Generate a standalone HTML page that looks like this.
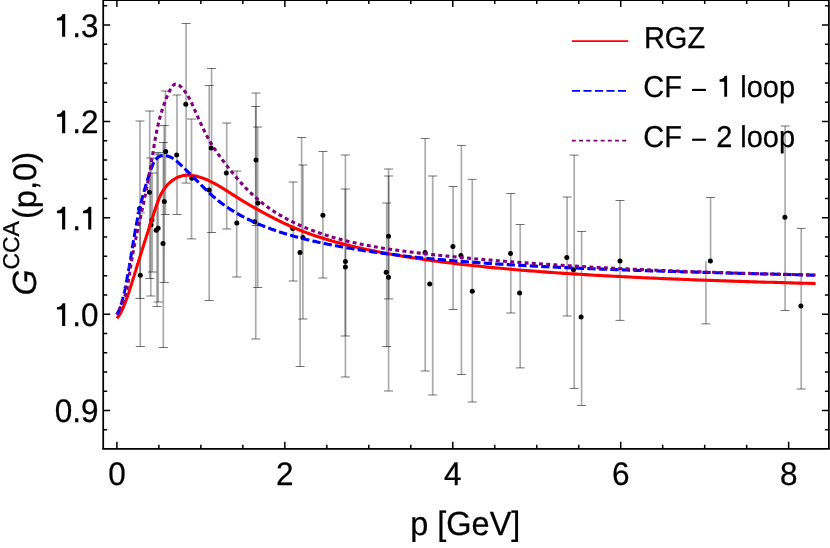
<!DOCTYPE html>
<html><head><meta charset="utf-8"><title>G CCA plot</title>
<style>
html,body{margin:0;padding:0;background:#fff;}
body{width:830px;height:548px;overflow:hidden;}
svg{display:block;will-change:transform;}
text{font-family:"Liberation Sans",sans-serif;fill:#000;text-rendering:geometricPrecision;stroke:#000;stroke-width:0.25px;}
</style></head><body>
<svg width="830" height="548" viewBox="0 0 830 548">
<rect width="830" height="548" fill="#fff"/>
<g stroke="#000" stroke-width="1.7" fill="none" stroke-opacity="0.33">
<line x1="140.0" y1="121.0" x2="140.0" y2="298.5"/>
<line x1="140.3" y1="213.0" x2="140.3" y2="346.5"/>
<line x1="149.7" y1="111.0" x2="149.7" y2="278.5"/>
<line x1="150.8" y1="158.0" x2="150.8" y2="296.0"/>
<line x1="152.3" y1="173.0" x2="152.3" y2="272.0"/>
<line x1="158.2" y1="152.5" x2="158.2" y2="302.0"/>
<line x1="157.0" y1="154.0" x2="157.0" y2="306.5"/>
<line x1="165.4" y1="91.0" x2="165.4" y2="214.5"/>
<line x1="164.2" y1="125.5" x2="164.2" y2="282.5"/>
<line x1="163.3" y1="142.5" x2="163.3" y2="347.5"/>
<line x1="177.0" y1="95.0" x2="177.0" y2="214.5"/>
<line x1="186.1" y1="23.5" x2="186.1" y2="183.1"/>
<line x1="191.5" y1="119.0" x2="191.5" y2="238.9"/>
<line x1="209.2" y1="85.5" x2="209.2" y2="300.5"/>
<line x1="211.6" y1="68.5" x2="211.6" y2="232.5"/>
<line x1="226.7" y1="123.0" x2="226.7" y2="229.0"/>
<line x1="236.7" y1="171.0" x2="236.7" y2="277.0"/>
<line x1="256.0" y1="93.0" x2="256.0" y2="225.6"/>
<line x1="255.7" y1="106.5" x2="255.7" y2="339.0"/>
<line x1="257.7" y1="127.0" x2="257.7" y2="287.5"/>
<line x1="293.2" y1="182.0" x2="293.2" y2="281.0"/>
<line x1="302.9" y1="165.0" x2="302.9" y2="319.0"/>
<line x1="322.9" y1="151.5" x2="322.9" y2="278.0"/>
<line x1="345.4" y1="189.0" x2="345.4" y2="336.0"/>
<line x1="345.4" y1="155.0" x2="345.4" y2="377.0"/>
<line x1="388.6" y1="176.0" x2="388.6" y2="298.9"/>
<line x1="388.6" y1="169.0" x2="388.6" y2="391.0"/>
<line x1="386.7" y1="203.0" x2="386.7" y2="346.5"/>
<line x1="425.2" y1="138.5" x2="425.2" y2="371.0"/>
<line x1="432.7" y1="176.0" x2="432.7" y2="395.0"/>
<line x1="453.1" y1="186.5" x2="453.1" y2="309.5"/>
<line x1="461.4" y1="145.4" x2="461.4" y2="374.5"/>
<line x1="472.3" y1="179.3" x2="472.3" y2="402.0"/>
<line x1="510.8" y1="193.5" x2="510.8" y2="313.0"/>
<line x1="520.2" y1="224.5" x2="520.2" y2="367.9"/>
<line x1="567.1" y1="197.0" x2="567.1" y2="316.0"/>
<line x1="574.2" y1="155.1" x2="574.2" y2="388.4"/>
<line x1="581.6" y1="231.5" x2="581.6" y2="405.5"/>
<line x1="620.0" y1="200.5" x2="620.0" y2="320.4"/>
<line x1="785.1" y1="126.0" x2="785.1" y2="310.5"/>
<line x1="801.2" y1="228.4" x2="801.2" y2="389.0"/>
<line x1="710.6" y1="197.5" x2="710.6" y2="261.2"/>
<line x1="705.9" y1="261.2" x2="705.9" y2="323.9"/>
<line x1="301.6" y1="137.5" x2="301.6" y2="252.4"/>
<line x1="300.1" y1="252.4" x2="300.1" y2="366.5"/>
</g>
<g stroke="#000" stroke-width="1.0" fill="none" stroke-opacity="0.55">
<line x1="135.5" y1="121.0" x2="144.5" y2="121.0"/>
<line x1="135.5" y1="298.5" x2="144.5" y2="298.5"/>
<line x1="135.8" y1="213.0" x2="144.8" y2="213.0"/>
<line x1="135.8" y1="346.5" x2="144.8" y2="346.5"/>
<line x1="145.2" y1="111.0" x2="154.2" y2="111.0"/>
<line x1="145.2" y1="278.5" x2="154.2" y2="278.5"/>
<line x1="146.3" y1="158.0" x2="155.3" y2="158.0"/>
<line x1="146.3" y1="296.0" x2="155.3" y2="296.0"/>
<line x1="147.8" y1="173.0" x2="156.8" y2="173.0"/>
<line x1="147.8" y1="272.0" x2="156.8" y2="272.0"/>
<line x1="153.7" y1="152.5" x2="162.7" y2="152.5"/>
<line x1="153.7" y1="302.0" x2="162.7" y2="302.0"/>
<line x1="152.5" y1="154.0" x2="161.5" y2="154.0"/>
<line x1="152.5" y1="306.5" x2="161.5" y2="306.5"/>
<line x1="160.9" y1="91.0" x2="169.9" y2="91.0"/>
<line x1="160.9" y1="214.5" x2="169.9" y2="214.5"/>
<line x1="159.7" y1="125.5" x2="168.7" y2="125.5"/>
<line x1="159.7" y1="282.5" x2="168.7" y2="282.5"/>
<line x1="158.8" y1="142.5" x2="167.8" y2="142.5"/>
<line x1="158.8" y1="347.5" x2="167.8" y2="347.5"/>
<line x1="172.5" y1="95.0" x2="181.5" y2="95.0"/>
<line x1="172.5" y1="214.5" x2="181.5" y2="214.5"/>
<line x1="181.6" y1="23.5" x2="190.6" y2="23.5"/>
<line x1="181.6" y1="183.1" x2="190.6" y2="183.1"/>
<line x1="187.0" y1="119.0" x2="196.0" y2="119.0"/>
<line x1="187.0" y1="238.9" x2="196.0" y2="238.9"/>
<line x1="204.7" y1="85.5" x2="213.7" y2="85.5"/>
<line x1="204.7" y1="300.5" x2="213.7" y2="300.5"/>
<line x1="207.1" y1="68.5" x2="216.1" y2="68.5"/>
<line x1="207.1" y1="232.5" x2="216.1" y2="232.5"/>
<line x1="222.2" y1="123.0" x2="231.2" y2="123.0"/>
<line x1="222.2" y1="229.0" x2="231.2" y2="229.0"/>
<line x1="232.2" y1="171.0" x2="241.2" y2="171.0"/>
<line x1="232.2" y1="277.0" x2="241.2" y2="277.0"/>
<line x1="251.5" y1="93.0" x2="260.5" y2="93.0"/>
<line x1="251.5" y1="225.6" x2="260.5" y2="225.6"/>
<line x1="251.2" y1="106.5" x2="260.2" y2="106.5"/>
<line x1="251.2" y1="339.0" x2="260.2" y2="339.0"/>
<line x1="253.2" y1="127.0" x2="262.2" y2="127.0"/>
<line x1="253.2" y1="287.5" x2="262.2" y2="287.5"/>
<line x1="288.7" y1="182.0" x2="297.7" y2="182.0"/>
<line x1="288.7" y1="281.0" x2="297.7" y2="281.0"/>
<line x1="298.4" y1="165.0" x2="307.4" y2="165.0"/>
<line x1="298.4" y1="319.0" x2="307.4" y2="319.0"/>
<line x1="318.4" y1="151.5" x2="327.4" y2="151.5"/>
<line x1="318.4" y1="278.0" x2="327.4" y2="278.0"/>
<line x1="340.9" y1="189.0" x2="349.9" y2="189.0"/>
<line x1="340.9" y1="336.0" x2="349.9" y2="336.0"/>
<line x1="340.9" y1="155.0" x2="349.9" y2="155.0"/>
<line x1="340.9" y1="377.0" x2="349.9" y2="377.0"/>
<line x1="384.1" y1="176.0" x2="393.1" y2="176.0"/>
<line x1="384.1" y1="298.9" x2="393.1" y2="298.9"/>
<line x1="384.1" y1="169.0" x2="393.1" y2="169.0"/>
<line x1="384.1" y1="391.0" x2="393.1" y2="391.0"/>
<line x1="382.2" y1="203.0" x2="391.2" y2="203.0"/>
<line x1="382.2" y1="346.5" x2="391.2" y2="346.5"/>
<line x1="420.7" y1="138.5" x2="429.7" y2="138.5"/>
<line x1="420.7" y1="371.0" x2="429.7" y2="371.0"/>
<line x1="428.2" y1="176.0" x2="437.2" y2="176.0"/>
<line x1="428.2" y1="395.0" x2="437.2" y2="395.0"/>
<line x1="448.6" y1="186.5" x2="457.6" y2="186.5"/>
<line x1="448.6" y1="309.5" x2="457.6" y2="309.5"/>
<line x1="456.9" y1="145.4" x2="465.9" y2="145.4"/>
<line x1="456.9" y1="374.5" x2="465.9" y2="374.5"/>
<line x1="467.8" y1="179.3" x2="476.8" y2="179.3"/>
<line x1="467.8" y1="402.0" x2="476.8" y2="402.0"/>
<line x1="506.3" y1="193.5" x2="515.3" y2="193.5"/>
<line x1="506.3" y1="313.0" x2="515.3" y2="313.0"/>
<line x1="515.7" y1="224.5" x2="524.7" y2="224.5"/>
<line x1="515.7" y1="367.9" x2="524.7" y2="367.9"/>
<line x1="562.6" y1="197.0" x2="571.6" y2="197.0"/>
<line x1="562.6" y1="316.0" x2="571.6" y2="316.0"/>
<line x1="569.7" y1="155.1" x2="578.7" y2="155.1"/>
<line x1="569.7" y1="388.4" x2="578.7" y2="388.4"/>
<line x1="577.1" y1="231.5" x2="586.1" y2="231.5"/>
<line x1="577.1" y1="405.5" x2="586.1" y2="405.5"/>
<line x1="615.5" y1="200.5" x2="624.5" y2="200.5"/>
<line x1="615.5" y1="320.4" x2="624.5" y2="320.4"/>
<line x1="780.6" y1="126.0" x2="789.6" y2="126.0"/>
<line x1="780.6" y1="310.5" x2="789.6" y2="310.5"/>
<line x1="796.7" y1="228.4" x2="805.7" y2="228.4"/>
<line x1="796.7" y1="389.0" x2="805.7" y2="389.0"/>
<line x1="706.1" y1="197.5" x2="715.1" y2="197.5"/>
<line x1="701.4" y1="323.9" x2="710.4" y2="323.9"/>
<line x1="297.1" y1="137.5" x2="306.1" y2="137.5"/>
<line x1="295.6" y1="366.5" x2="304.6" y2="366.5"/>
</g>
<g fill="#000">
<circle cx="139.6" cy="208.5" r="2.5"/>
<circle cx="140.3" cy="275.3" r="2.5"/>
<circle cx="149.4" cy="192.2" r="2.5"/>
<circle cx="151.0" cy="224.7" r="2.5"/>
<circle cx="151.9" cy="220.1" r="2.5"/>
<circle cx="158.1" cy="228.3" r="2.5"/>
<circle cx="156.2" cy="230.2" r="2.5"/>
<circle cx="165.7" cy="151.5" r="2.5"/>
<circle cx="164.3" cy="201.6" r="2.5"/>
<circle cx="163.0" cy="243.5" r="2.5"/>
<circle cx="176.7" cy="155.1" r="2.5"/>
<circle cx="185.8" cy="104.2" r="2.5"/>
<circle cx="191.8" cy="178.2" r="2.5"/>
<circle cx="209.1" cy="190.0" r="2.5"/>
<circle cx="211.2" cy="148.1" r="2.5"/>
<circle cx="226.3" cy="173.1" r="2.5"/>
<circle cx="236.8" cy="223.0" r="2.5"/>
<circle cx="256.0" cy="159.9" r="2.5"/>
<circle cx="254.7" cy="221.7" r="2.5"/>
<circle cx="257.9" cy="203.1" r="2.5"/>
<circle cx="292.7" cy="228.5" r="2.5"/>
<circle cx="302.9" cy="237.5" r="2.5"/>
<circle cx="300.0" cy="252.4" r="2.5"/>
<circle cx="322.9" cy="215.3" r="2.5"/>
<circle cx="345.4" cy="261.6" r="2.5"/>
<circle cx="345.4" cy="266.9" r="2.5"/>
<circle cx="388.5" cy="236.3" r="2.5"/>
<circle cx="388.5" cy="277.2" r="2.5"/>
<circle cx="386.2" cy="272.3" r="2.5"/>
<circle cx="425.1" cy="252.4" r="2.5"/>
<circle cx="429.7" cy="284.1" r="2.5"/>
<circle cx="452.9" cy="246.5" r="2.5"/>
<circle cx="460.9" cy="255.4" r="2.5"/>
<circle cx="472.3" cy="291.2" r="2.5"/>
<circle cx="510.5" cy="253.4" r="2.5"/>
<circle cx="519.6" cy="293.0" r="2.5"/>
<circle cx="566.8" cy="257.5" r="2.5"/>
<circle cx="573.5" cy="269.8" r="2.5"/>
<circle cx="581.1" cy="317.1" r="2.5"/>
<circle cx="620.0" cy="261.1" r="2.5"/>
<circle cx="710.4" cy="261.0" r="2.5"/>
<circle cx="784.9" cy="217.2" r="2.5"/>
<circle cx="800.9" cy="306.0" r="2.5"/>
</g>
<g fill="none" stroke-width="3.1" stroke-linejoin="round">
<path d="M116.90,318.40 L116.98,318.30 L117.07,318.20 L117.15,318.09 L117.23,317.99 L117.32,317.89 L117.40,317.78 L117.49,317.67 L117.57,317.57 L117.65,317.46 L117.73,317.35 L117.82,317.25 L117.90,317.14 L117.98,317.03 L118.06,316.92 L118.14,316.80 L118.22,316.69 L118.30,316.58 L118.38,316.47 L118.46,316.35 L118.54,316.24 L118.62,316.12 L118.70,316.00 L118.78,315.89 L118.86,315.77 L118.94,315.65 L119.02,315.53 L119.10,315.41 L119.18,315.29 L119.26,315.17 L119.34,315.04 L119.41,314.92 L119.49,314.79 L119.57,314.67 L119.65,314.54 L119.72,314.41 L119.80,314.29 L119.88,314.16 L119.96,314.03 L120.03,313.90 L120.11,313.77 L120.19,313.63 L120.26,313.50 L120.34,313.37 L120.41,313.23 L120.49,313.10 L120.57,312.96 L120.64,312.82 L120.72,312.68 L120.79,312.55 L120.87,312.41 L120.94,312.26 L121.02,312.12 L121.09,311.98 L121.17,311.84 L121.24,311.69 L121.32,311.55 L121.39,311.40 L121.47,311.25 L121.54,311.10 L121.62,310.95 L121.69,310.80 L121.77,310.65 L121.84,310.50 L121.92,310.35 L121.99,310.19 L122.07,310.04 L122.14,309.88 L122.21,309.72 L122.29,309.56 L122.36,309.41 L122.44,309.25 L122.51,309.08 L122.59,308.92 L122.66,308.76 L122.73,308.59 L122.81,308.43 L122.88,308.26 L122.96,308.10 L123.03,307.93 L123.11,307.76 L123.18,307.59 L123.25,307.42 L123.33,307.24 L123.40,307.07 L123.48,306.89 L123.55,306.72 L123.63,306.54 L123.70,306.36 L123.77,306.18 L123.85,306.00 L123.92,305.82 L124.00,305.64 L124.07,305.46 L124.15,305.27 L124.22,305.09 L124.30,304.90 L124.37,304.71 L124.45,304.52 L124.52,304.33 L124.60,304.14 L124.67,303.95 L124.75,303.76 L124.82,303.56 L124.90,303.37 L124.98,303.17 L125.05,302.97 L125.13,302.77 L125.20,302.57 L125.28,302.37 L125.36,302.17 L125.43,301.96 L125.51,301.76 L125.59,301.55 L125.66,301.34 L125.74,301.13 L125.82,300.92 L125.89,300.71 L125.97,300.50 L126.05,300.29 L126.13,300.07 L126.21,299.85 L126.28,299.64 L126.36,299.42 L126.44,299.20 L126.52,298.98 L126.60,298.75 L126.68,298.53 L126.76,298.31 L126.84,298.08 L126.92,297.85 L127.00,297.62 L127.08,297.39 L127.16,297.16 L127.24,296.93 L127.32,296.69 L127.40,296.46 L127.48,296.22 L127.56,295.98 L127.64,295.74 L127.72,295.50 L127.81,295.26 L127.89,295.02 L127.97,294.77 L128.05,294.53 L128.14,294.28 L128.22,294.03 L128.30,293.78 L128.39,293.53 L128.47,293.28 L128.56,293.02 L128.64,292.77 L128.73,292.51 L128.81,292.25 L128.90,291.99 L128.98,291.73 L129.07,291.47 L129.16,291.20 L129.24,290.94 L129.33,290.67 L129.42,290.40 L129.51,290.13 L129.59,289.86 L129.68,289.59 L129.77,289.32 L129.86,289.04 L129.95,288.76 L130.04,288.49 L130.13,288.21 L130.22,287.93 L130.31,287.64 L130.40,287.36 L130.49,287.07 L130.58,286.79 L130.68,286.50 L130.77,286.21 L130.86,285.92 L130.95,285.62 L131.05,285.33 L131.14,285.03 L131.24,284.73 L131.33,284.44 L131.43,284.13 L131.52,283.83 L131.62,283.53 L131.71,283.22 L131.81,282.92 L131.91,282.61 L132.00,282.30 L132.10,281.99 L132.20,281.67 L132.30,281.36 L132.40,281.04 L132.50,280.73 L132.60,280.41 L132.70,280.09 L132.80,279.76 L132.90,279.44 L133.00,279.11 L133.10,278.79 L133.21,278.46 L133.31,278.13 L133.41,277.79 L133.52,277.46 L133.62,277.13 L133.73,276.79 L133.83,276.45 L133.94,276.11 L134.04,275.77 L134.15,275.42 L134.26,275.08 L134.37,274.73 L134.47,274.38 L134.58,274.03 L134.69,273.68 L134.80,273.33 L134.91,272.97 L135.02,272.62 L135.13,272.26 L135.25,271.90 L135.36,271.53 L135.47,271.17 L135.59,270.81 L135.70,270.44 L135.81,270.07 L135.93,269.70 L136.04,269.33 L136.16,268.95 L136.28,268.58 L136.39,268.20 L136.51,267.82 L136.63,267.44 L136.75,267.06 L136.87,266.67 L136.99,266.28 L137.11,265.90 L137.23,265.51 L137.35,265.11 L137.47,264.72 L137.60,264.33 L137.72,263.93 L137.84,263.53 L137.97,263.13 L138.09,262.73 L138.22,262.32 L138.35,261.92 L138.47,261.51 L138.60,261.10 L138.73,260.69 L138.86,260.27 L138.99,259.86 L139.12,259.44 L139.25,259.02 L139.38,258.60 L139.51,258.18 L139.65,257.75 L139.78,257.33 L139.91,256.90 L140.05,256.47 L140.18,256.04 L140.32,255.60 L140.46,255.16 L140.59,254.73 L140.73,254.29 L140.87,253.84 L141.01,253.40 L141.15,252.95 L141.29,252.50 L141.43,252.05 L141.58,251.60 L141.72,251.14 L141.87,250.69 L142.01,250.23 L142.16,249.77 L142.30,249.30 L142.45,248.83 L142.60,248.36 L142.75,247.89 L142.90,247.42 L143.05,246.94 L143.20,246.46 L143.35,245.98 L143.51,245.50 L143.66,245.01 L143.82,244.52 L143.97,244.03 L144.13,243.54 L144.29,243.04 L144.45,242.54 L144.61,242.04 L144.77,241.53 L144.93,241.02 L145.09,240.51 L145.26,240.00 L145.42,239.48 L145.59,238.96 L145.75,238.44 L145.92,237.91 L146.09,237.38 L146.26,236.85 L146.43,236.32 L146.60,235.78 L146.78,235.24 L146.95,234.70 L147.13,234.15 L147.30,233.60 L147.48,233.05 L147.66,232.49 L147.84,231.93 L148.02,231.37 L148.20,230.80 L148.39,230.23 L148.57,229.66 L148.76,229.08 L148.94,228.50 L149.13,227.92 L149.32,227.34 L149.51,226.75 L149.70,226.15 L149.90,225.56 L150.09,224.96 L150.29,224.35 L150.48,223.74 L150.68,223.13 L150.88,222.52 L151.08,221.90 L151.28,221.28 L151.49,220.65 L151.69,220.02 L151.90,219.39 L152.10,218.75 L152.31,218.11 L152.52,217.47 L152.73,216.82 L152.95,216.16 L153.16,215.51 L153.38,214.85 L153.59,214.18 L153.81,213.51 L154.03,212.84 L154.25,212.16 L154.47,211.48 L154.70,210.80 L154.92,210.11 L155.15,209.42 L155.38,208.72 L155.61,208.02 L155.84,207.31 L156.08,206.60 L156.32,205.89 L156.56,205.18 L156.80,204.46 L157.05,203.75 L157.31,203.03 L157.57,202.31 L157.84,201.59 L158.11,200.87 L158.39,200.15 L158.67,199.44 L158.97,198.72 L159.27,198.00 L159.58,197.29 L159.90,196.58 L160.23,195.87 L160.56,195.17 L160.91,194.46 L161.27,193.77 L161.64,193.07 L162.02,192.38 L162.41,191.70 L162.82,191.02 L163.24,190.35 L163.67,189.68 L164.12,189.02 L164.58,188.37 L165.05,187.73 L165.54,187.09 L166.04,186.46 L166.56,185.84 L167.10,185.23 L167.66,184.63 L168.23,184.04 L168.82,183.46 L169.42,182.89 L170.05,182.33 L170.69,181.78 L171.36,181.24 L172.04,180.72 L172.75,180.21 L173.47,179.71 L174.21,179.23 L174.97,178.76 L175.75,178.32 L176.55,177.90 L177.36,177.51 L178.19,177.14 L179.03,176.80 L179.89,176.49 L180.76,176.21 L181.65,175.97 L182.54,175.76 L183.45,175.59 L184.37,175.44 L185.30,175.33 L186.24,175.25 L187.19,175.21 L188.14,175.20 L189.10,175.22 L190.07,175.27 L191.05,175.34 L192.03,175.45 L193.01,175.58 L194.00,175.74 L195.00,175.93 L195.99,176.13 L196.99,176.37 L197.99,176.62 L198.99,176.90 L199.98,177.19 L200.98,177.51 L201.98,177.85 L202.97,178.20 L203.96,178.57 L204.95,178.95 L205.94,179.35 L206.92,179.77 L207.89,180.20 L208.87,180.64 L209.84,181.10 L210.81,181.57 L211.78,182.05 L212.75,182.55 L213.71,183.05 L214.68,183.57 L215.64,184.10 L216.61,184.64 L217.57,185.19 L218.54,185.75 L219.51,186.32 L220.48,186.89 L221.44,187.48 L222.42,188.07 L223.39,188.67 L224.37,189.28 L225.34,189.89 L226.33,190.51 L227.31,191.14 L228.30,191.77 L229.29,192.40 L230.29,193.04 L231.29,193.69 L232.30,194.33 L233.32,194.98 L234.33,195.64 L235.36,196.29 L236.39,196.95 L237.43,197.61 L238.47,198.27 L239.53,198.93 L240.59,199.59 L241.65,200.25 L242.73,200.91 L243.82,201.56 L244.91,202.22 L246.01,202.88 L247.12,203.53 L248.24,204.19 L249.37,204.85 L250.51,205.50 L251.65,206.16 L252.80,206.82 L253.97,207.48 L255.14,208.13 L256.32,208.79 L257.51,209.45 L258.70,210.12 L259.91,210.78 L261.13,211.44 L262.35,212.11 L263.58,212.78 L264.82,213.45 L266.08,214.12 L267.34,214.79 L268.60,215.47 L269.88,216.14 L271.17,216.81 L272.47,217.49 L273.77,218.16 L275.08,218.83 L276.41,219.50 L277.74,220.17 L279.08,220.84 L280.43,221.51 L281.80,222.17 L283.16,222.83 L284.54,223.48 L285.93,224.13 L287.33,224.78 L288.74,225.42 L290.16,226.06 L291.58,226.69 L293.02,227.32 L294.46,227.94 L295.92,228.55 L297.38,229.16 L298.86,229.76 L300.34,230.35 L301.83,230.94 L303.34,231.52 L304.85,232.10 L306.37,232.67 L307.90,233.23 L309.45,233.79 L311.00,234.34 L312.56,234.88 L314.13,235.42 L315.71,235.95 L317.31,236.48 L318.91,237.00 L320.52,237.52 L322.14,238.03 L323.77,238.54 L325.41,239.04 L327.06,239.53 L328.73,240.02 L330.40,240.51 L332.08,240.99 L333.77,241.46 L335.48,241.93 L337.19,242.40 L338.91,242.86 L340.64,243.32 L342.39,243.77 L344.14,244.22 L345.91,244.66 L347.68,245.10 L349.47,245.54 L351.26,245.97 L353.07,246.40 L354.89,246.83 L356.71,247.25 L358.55,247.66 L360.40,248.08 L362.26,248.49 L364.13,248.90 L366.01,249.30 L367.90,249.70 L369.80,250.10 L371.71,250.49 L373.64,250.88 L375.57,251.27 L377.52,251.66 L379.47,252.04 L381.44,252.42 L383.42,252.79 L385.41,253.16 L387.41,253.53 L389.42,253.90 L391.45,254.27 L393.48,254.63 L395.53,254.98 L397.58,255.34 L399.65,255.69 L401.73,256.04 L403.83,256.39 L405.93,256.73 L408.05,257.07 L410.18,257.41 L412.31,257.75 L414.47,258.08 L416.63,258.41 L418.81,258.73 L420.99,259.06 L423.19,259.38 L425.40,259.70 L427.63,260.02 L429.86,260.33 L432.11,260.64 L434.37,260.95 L436.65,261.25 L438.93,261.56 L441.23,261.86 L443.54,262.15 L445.87,262.45 L448.20,262.74 L450.55,263.03 L452.92,263.32 L455.29,263.60 L457.68,263.89 L460.08,264.17 L462.49,264.45 L464.92,264.72 L467.36,264.99 L469.81,265.26 L472.28,265.53 L474.76,265.80 L477.25,266.06 L479.76,266.32 L482.28,266.58 L484.81,266.84 L487.36,267.09 L489.92,267.34 L492.50,267.59 L495.08,267.84 L497.69,268.08 L500.30,268.33 L502.93,268.57 L505.58,268.81 L508.23,269.04 L510.91,269.28 L513.59,269.51 L516.29,269.74 L519.00,269.97 L521.73,270.19 L524.48,270.42 L527.23,270.64 L530.00,270.86 L532.79,271.07 L535.59,271.29 L538.41,271.50 L541.23,271.71 L544.08,271.92 L546.94,272.13 L549.81,272.34 L552.70,272.54 L555.60,272.74 L558.52,272.94 L561.46,273.14 L564.40,273.34 L567.37,273.53 L570.35,273.72 L573.34,273.91 L576.35,274.10 L579.38,274.29 L582.42,274.47 L585.47,274.66 L588.54,274.84 L591.63,275.02 L594.73,275.20 L597.85,275.38 L600.98,275.55 L604.13,275.72 L607.30,275.90 L610.48,276.07 L613.67,276.24 L616.89,276.40 L620.11,276.57 L623.36,276.73 L626.62,276.89 L629.90,277.05 L633.19,277.21 L636.50,277.37 L639.83,277.53 L643.17,277.68 L646.53,277.84 L649.90,277.99 L653.29,278.14 L656.70,278.29 L660.13,278.44 L663.57,278.58 L667.03,278.73 L670.50,278.87 L674.00,279.01 L677.50,279.16 L681.03,279.30 L684.57,279.43 L688.13,279.57 L691.71,279.71 L695.31,279.84 L698.92,279.98 L702.55,280.11 L706.19,280.24 L709.86,280.37 L713.54,280.50 L717.24,280.63 L720.95,280.75 L724.69,280.88 L728.44,281.00 L732.21,281.13 L736.00,281.25 L739.80,281.37 L743.62,281.49 L747.47,281.61 L751.32,281.73 L755.20,281.85 L759.10,281.96 L763.01,282.08 L766.94,282.19 L770.89,282.31 L774.86,282.42 L778.84,282.53 L782.85,282.64 L786.87,282.75 L790.91,282.86 L794.97,282.97 L799.05,283.08 L803.15,283.19 L807.27,283.29 L811.40,283.40 L815.56,283.50" stroke="#ff0000" stroke-linecap="butt"/>
<path d="M116.90,314.60 L116.97,314.49 L117.03,314.37 L117.10,314.25 L117.16,314.13 L117.22,314.01 L117.29,313.89 L117.35,313.77 L117.41,313.65 L117.48,313.53 L117.54,313.41 L117.60,313.29 L117.66,313.16 L117.73,313.04 L117.79,312.92 L117.85,312.79 L117.91,312.66 L117.97,312.54 L118.04,312.41 L118.10,312.28 L118.16,312.16 L118.22,312.03 L118.28,311.90 L118.34,311.77 L118.40,311.63 L118.46,311.50 L118.52,311.37 L118.58,311.24 L118.64,311.10 L118.70,310.97 L118.76,310.83 L118.82,310.70 L118.87,310.56 L118.93,310.42 L118.99,310.28 L119.05,310.14 L119.11,310.00 L119.17,309.86 L119.22,309.72 L119.28,309.58 L119.34,309.44 L119.40,309.29 L119.45,309.15 L119.51,309.00 L119.57,308.86 L119.63,308.71 L119.68,308.56 L119.74,308.41 L119.80,308.26 L119.85,308.11 L119.91,307.96 L119.97,307.81 L120.02,307.65 L120.08,307.50 L120.13,307.35 L120.19,307.19 L120.25,307.03 L120.30,306.88 L120.36,306.72 L120.41,306.56 L120.47,306.40 L120.52,306.24 L120.58,306.07 L120.63,305.91 L120.69,305.75 L120.74,305.58 L120.80,305.42 L120.85,305.25 L120.91,305.08 L120.96,304.91 L121.02,304.74 L121.07,304.57 L121.12,304.40 L121.18,304.23 L121.23,304.05 L121.29,303.88 L121.34,303.70 L121.39,303.53 L121.45,303.35 L121.50,303.17 L121.56,302.99 L121.61,302.81 L121.66,302.63 L121.72,302.44 L121.77,302.26 L121.82,302.07 L121.88,301.89 L121.93,301.70 L121.98,301.51 L122.04,301.32 L122.09,301.13 L122.14,300.94 L122.20,300.75 L122.25,300.55 L122.30,300.36 L122.36,300.16 L122.41,299.96 L122.46,299.76 L122.52,299.56 L122.57,299.36 L122.62,299.16 L122.68,298.96 L122.73,298.75 L122.78,298.55 L122.83,298.34 L122.89,298.13 L122.94,297.92 L122.99,297.71 L123.05,297.50 L123.10,297.29 L123.15,297.07 L123.21,296.86 L123.26,296.64 L123.31,296.43 L123.36,296.21 L123.42,295.99 L123.47,295.76 L123.52,295.54 L123.58,295.32 L123.63,295.09 L123.68,294.87 L123.74,294.64 L123.79,294.41 L123.84,294.18 L123.90,293.95 L123.95,293.71 L124.00,293.48 L124.06,293.24 L124.11,293.01 L124.16,292.77 L124.22,292.53 L124.27,292.29 L124.33,292.04 L124.38,291.80 L124.43,291.55 L124.49,291.31 L124.54,291.06 L124.60,290.81 L124.65,290.56 L124.70,290.31 L124.76,290.05 L124.81,289.80 L124.87,289.54 L124.92,289.28 L124.98,289.03 L125.03,288.76 L125.08,288.50 L125.14,288.24 L125.19,287.97 L125.25,287.71 L125.30,287.44 L125.36,287.17 L125.42,286.90 L125.47,286.63 L125.53,286.35 L125.58,286.08 L125.64,285.80 L125.69,285.52 L125.75,285.24 L125.80,284.96 L125.86,284.68 L125.92,284.39 L125.97,284.11 L126.03,283.82 L126.09,283.53 L126.14,283.24 L126.20,282.95 L126.26,282.65 L126.31,282.36 L126.37,282.06 L126.43,281.76 L126.49,281.46 L126.54,281.16 L126.60,280.86 L126.66,280.55 L126.72,280.24 L126.78,279.94 L126.83,279.63 L126.89,279.31 L126.95,279.00 L127.01,278.69 L127.07,278.37 L127.13,278.05 L127.19,277.73 L127.25,277.41 L127.31,277.09 L127.37,276.76 L127.43,276.43 L127.49,276.11 L127.55,275.78 L127.61,275.44 L127.67,275.11 L127.73,274.78 L127.79,274.44 L127.85,274.10 L127.91,273.76 L127.97,273.42 L128.04,273.07 L128.10,272.73 L128.16,272.38 L128.22,272.03 L128.28,271.68 L128.35,271.33 L128.41,270.97 L128.47,270.62 L128.54,270.26 L128.60,269.90 L128.66,269.54 L128.73,269.17 L128.79,268.81 L128.86,268.44 L128.92,268.07 L128.99,267.70 L129.05,267.33 L129.12,266.95 L129.18,266.57 L129.25,266.20 L129.31,265.82 L129.38,265.43 L129.45,265.05 L129.51,264.66 L129.58,264.28 L129.65,263.89 L129.71,263.49 L129.78,263.10 L129.85,262.70 L129.92,262.31 L129.99,261.91 L130.06,261.51 L130.12,261.10 L130.19,260.70 L130.26,260.29 L130.33,259.88 L130.40,259.47 L130.47,259.06 L130.54,258.64 L130.62,258.22 L130.69,257.80 L130.76,257.38 L130.83,256.96 L130.90,256.54 L130.97,256.11 L131.05,255.68 L131.12,255.25 L131.19,254.81 L131.27,254.38 L131.34,253.94 L131.41,253.50 L131.49,253.06 L131.56,252.62 L131.64,252.17 L131.71,251.72 L131.79,251.27 L131.86,250.82 L131.94,250.37 L132.02,249.91 L132.09,249.45 L132.17,248.99 L132.25,248.53 L132.33,248.06 L132.40,247.60 L132.48,247.13 L132.56,246.66 L132.64,246.18 L132.72,245.71 L132.80,245.23 L132.88,244.75 L132.96,244.27 L133.04,243.78 L133.12,243.30 L133.20,242.81 L133.28,242.32 L133.37,241.82 L133.45,241.33 L133.53,240.83 L133.61,240.33 L133.70,239.83 L133.78,239.33 L133.87,238.82 L133.95,238.31 L134.04,237.80 L134.12,237.28 L134.21,236.77 L134.30,236.25 L134.38,235.73 L134.47,235.21 L134.56,234.68 L134.65,234.15 L134.74,233.62 L134.83,233.09 L134.93,232.55 L135.02,232.01 L135.11,231.47 L135.21,230.92 L135.31,230.38 L135.40,229.83 L135.50,229.28 L135.60,228.72 L135.70,228.16 L135.80,227.60 L135.90,227.04 L136.01,226.47 L136.11,225.90 L136.22,225.33 L136.33,224.75 L136.43,224.17 L136.54,223.59 L136.66,223.01 L136.77,222.42 L136.88,221.83 L137.00,221.24 L137.12,220.64 L137.23,220.04 L137.35,219.44 L137.48,218.83 L137.60,218.22 L137.72,217.61 L137.85,216.99 L137.98,216.37 L138.11,215.75 L138.24,215.12 L138.38,214.49 L138.51,213.86 L138.65,213.23 L138.79,212.59 L138.93,211.94 L139.07,211.30 L139.22,210.65 L139.36,209.99 L139.51,209.34 L139.67,208.67 L139.82,208.01 L139.97,207.34 L140.13,206.67 L140.29,205.99 L140.45,205.31 L140.62,204.63 L140.79,203.95 L140.95,203.25 L141.13,202.56 L141.30,201.86 L141.48,201.16 L141.66,200.45 L141.84,199.74 L142.02,199.03 L142.21,198.31 L142.40,197.59 L142.59,196.87 L142.78,196.14 L142.98,195.40 L143.18,194.66 L143.38,193.92 L143.59,193.18 L143.79,192.42 L144.00,191.67 L144.22,190.91 L144.43,190.15 L144.65,189.38 L144.88,188.61 L145.10,187.83 L145.33,187.05 L145.56,186.27 L145.80,185.48 L146.03,184.69 L146.27,183.89 L146.52,183.09 L146.76,182.28 L147.02,181.47 L147.27,180.65 L147.53,179.83 L147.79,179.01 L148.05,178.18 L148.32,177.34 L148.59,176.51 L148.86,175.66 L149.14,174.81 L149.42,173.96 L149.70,173.10 L149.99,172.24 L150.28,171.37 L150.58,170.50 L150.88,169.63 L151.18,168.75 L151.50,167.87 L151.82,167.00 L152.15,166.14 L152.50,165.29 L152.86,164.45 L153.24,163.63 L153.64,162.83 L154.06,162.06 L154.50,161.31 L154.97,160.59 L155.46,159.91 L155.98,159.26 L156.53,158.64 L157.11,158.07 L157.73,157.55 L158.38,157.07 L159.07,156.65 L159.79,156.29 L160.56,155.99 L161.37,155.75 L162.23,155.59 L163.13,155.50 L164.08,155.49 L165.08,155.56 L166.10,155.71 L167.13,155.93 L168.16,156.22 L169.18,156.57 L170.18,156.98 L171.17,157.45 L172.14,157.97 L173.09,158.53 L174.01,159.13 L174.92,159.77 L175.79,160.44 L176.65,161.14 L177.49,161.86 L178.32,162.60 L179.14,163.35 L179.95,164.11 L180.76,164.88 L181.56,165.64 L182.36,166.41 L183.16,167.18 L183.96,167.96 L184.76,168.73 L185.56,169.51 L186.37,170.29 L187.17,171.07 L187.97,171.85 L188.77,172.64 L189.58,173.44 L190.39,174.24 L191.20,175.04 L192.02,175.85 L192.84,176.66 L193.66,177.48 L194.48,178.30 L195.31,179.13 L196.15,179.97 L196.99,180.81 L197.84,181.66 L198.69,182.52 L199.55,183.38 L200.42,184.25 L201.29,185.13 L202.17,186.01 L203.06,186.89 L203.96,187.78 L204.86,188.67 L205.78,189.56 L206.70,190.46 L207.64,191.35 L208.58,192.24 L209.54,193.13 L210.50,194.02 L211.48,194.91 L212.47,195.79 L213.47,196.67 L214.48,197.54 L215.51,198.41 L216.55,199.27 L217.60,200.13 L218.67,200.98 L219.74,201.82 L220.84,202.65 L221.94,203.48 L223.06,204.30 L224.19,205.12 L225.33,205.92 L226.49,206.72 L227.66,207.52 L228.84,208.30 L230.04,209.08 L231.25,209.86 L232.47,210.62 L233.70,211.38 L234.95,212.13 L236.21,212.88 L237.48,213.62 L238.77,214.35 L240.06,215.07 L241.37,215.79 L242.69,216.50 L244.03,217.20 L245.38,217.90 L246.73,218.59 L248.11,219.27 L249.49,219.94 L250.89,220.61 L252.29,221.27 L253.72,221.93 L255.15,222.57 L256.59,223.21 L258.05,223.84 L259.52,224.47 L261.00,225.08 L262.49,225.69 L264.00,226.29 L265.51,226.89 L267.04,227.48 L268.58,228.06 L270.14,228.63 L271.70,229.20 L273.28,229.76 L274.86,230.31 L276.46,230.86 L278.07,231.40 L279.70,231.93 L281.33,232.46 L282.97,232.98 L284.63,233.49 L286.30,234.00 L287.98,234.50 L289.67,235.00 L291.37,235.49 L293.09,235.98 L294.81,236.45 L296.55,236.93 L298.29,237.40 L300.05,237.86 L301.82,238.31 L303.60,238.77 L305.40,239.21 L307.20,239.65 L309.01,240.09 L310.84,240.52 L312.67,240.95 L314.52,241.37 L316.38,241.79 L318.24,242.20 L320.12,242.61 L322.01,243.01 L323.91,243.41 L325.82,243.81 L327.74,244.20 L329.68,244.58 L331.62,244.97 L333.57,245.35 L335.53,245.72 L337.51,246.09 L339.49,246.46 L341.49,246.82 L343.49,247.19 L345.51,247.54 L347.54,247.90 L349.57,248.25 L351.62,248.59 L353.68,248.94 L355.75,249.28 L357.83,249.61 L359.92,249.95 L362.03,250.27 L364.14,250.60 L366.27,250.92 L368.41,251.24 L370.56,251.56 L372.72,251.87 L374.89,252.18 L377.07,252.49 L379.27,252.79 L381.48,253.09 L383.69,253.39 L385.93,253.68 L388.17,253.98 L390.42,254.26 L392.69,254.55 L394.97,254.83 L397.26,255.11 L399.57,255.39 L401.88,255.66 L404.21,255.93 L406.55,256.20 L408.91,256.46 L411.27,256.72 L413.65,256.98 L416.05,257.24 L418.45,257.49 L420.87,257.74 L423.30,257.99 L425.74,258.23 L428.20,258.48 L430.67,258.72 L433.15,258.95 L435.65,259.19 L438.16,259.42 L440.68,259.65 L443.22,259.88 L445.77,260.10 L448.34,260.32 L450.91,260.54 L453.51,260.76 L456.11,260.98 L458.73,261.19 L461.37,261.40 L464.01,261.61 L466.68,261.81 L469.35,262.02 L472.04,262.22 L474.75,262.42 L477.47,262.62 L480.20,262.81 L482.95,263.00 L485.71,263.19 L488.49,263.38 L491.28,263.57 L494.08,263.75 L496.91,263.94 L499.74,264.12 L502.59,264.29 L505.46,264.47 L508.34,264.65 L511.24,264.82 L514.15,264.99 L517.08,265.16 L520.02,265.33 L522.98,265.49 L525.95,265.66 L528.94,265.82 L531.95,265.98 L534.97,266.14 L538.00,266.29 L541.06,266.45 L544.12,266.60 L547.21,266.76 L550.31,266.91 L553.42,267.06 L556.56,267.20 L559.70,267.35 L562.87,267.49 L566.05,267.64 L569.25,267.78 L572.46,267.92 L575.69,268.06 L578.94,268.20 L582.21,268.33 L585.49,268.47 L588.78,268.60 L592.10,268.74 L595.43,268.87 L598.78,269.00 L602.15,269.13 L605.53,269.26 L608.93,269.38 L612.35,269.51 L615.78,269.63 L619.23,269.76 L622.70,269.88 L626.19,270.00 L629.70,270.12 L633.22,270.24 L636.76,270.36 L640.32,270.48 L643.90,270.60 L647.49,270.71 L651.10,270.83 L654.73,270.94 L658.38,271.06 L662.05,271.17 L665.74,271.29 L669.44,271.40 L673.16,271.51 L676.90,271.62 L680.66,271.73 L684.44,271.84 L688.24,271.95 L692.05,272.06 L695.89,272.16 L699.74,272.27 L703.61,272.38 L707.50,272.49 L711.41,272.59 L715.34,272.70 L719.29,272.80 L723.26,272.91 L727.25,273.01 L731.25,273.12 L735.28,273.22 L739.32,273.33 L743.39,273.43 L747.48,273.53 L751.58,273.64 L755.71,273.74 L759.85,273.84 L764.01,273.95 L768.20,274.05 L772.40,274.15 L776.63,274.26 L780.87,274.36 L785.14,274.46 L789.43,274.57 L793.73,274.67 L798.06,274.77 L802.41,274.88 L806.78,274.98 L811.16,275.09 L815.57,275.19" stroke="#0000ff" stroke-dasharray="8.3 3.225" stroke-dashoffset="0.9"/>
<path d="M116.90,314.60 L116.96,314.48 L117.02,314.36 L117.07,314.24 L117.13,314.12 L117.19,314.00 L117.24,313.88 L117.30,313.75 L117.36,313.63 L117.42,313.51 L117.48,313.38 L117.54,313.26 L117.60,313.13 L117.66,313.00 L117.72,312.88 L117.79,312.75 L117.85,312.62 L117.91,312.49 L117.98,312.36 L118.04,312.23 L118.10,312.10 L118.17,311.97 L118.23,311.84 L118.30,311.71 L118.37,311.57 L118.43,311.44 L118.50,311.30 L118.57,311.17 L118.63,311.03 L118.70,310.89 L118.77,310.76 L118.84,310.62 L118.91,310.48 L118.97,310.34 L119.04,310.20 L119.11,310.05 L119.18,309.91 L119.25,309.77 L119.32,309.63 L119.39,309.48 L119.47,309.33 L119.54,309.19 L119.61,309.04 L119.68,308.89 L119.75,308.74 L119.82,308.59 L119.90,308.44 L119.97,308.29 L120.04,308.14 L120.12,307.99 L120.19,307.83 L120.26,307.68 L120.34,307.52 L120.41,307.37 L120.48,307.21 L120.56,307.05 L120.63,306.89 L120.71,306.73 L120.78,306.57 L120.86,306.41 L120.93,306.24 L121.01,306.08 L121.08,305.91 L121.16,305.75 L121.23,305.58 L121.31,305.41 L121.38,305.24 L121.46,305.07 L121.53,304.90 L121.61,304.73 L121.69,304.55 L121.76,304.38 L121.84,304.21 L121.91,304.03 L121.99,303.85 L122.06,303.67 L122.14,303.49 L122.22,303.31 L122.29,303.13 L122.37,302.95 L122.44,302.76 L122.52,302.58 L122.60,302.39 L122.67,302.21 L122.75,302.02 L122.82,301.83 L122.90,301.64 L122.97,301.45 L123.05,301.25 L123.12,301.06 L123.20,300.86 L123.27,300.67 L123.35,300.47 L123.42,300.27 L123.50,300.07 L123.57,299.87 L123.65,299.67 L123.72,299.46 L123.80,299.26 L123.87,299.05 L123.95,298.84 L124.02,298.63 L124.09,298.42 L124.17,298.21 L124.24,298.00 L124.31,297.79 L124.38,297.57 L124.46,297.35 L124.53,297.14 L124.60,296.92 L124.67,296.70 L124.75,296.47 L124.82,296.25 L124.89,296.03 L124.96,295.80 L125.03,295.57 L125.10,295.35 L125.17,295.12 L125.24,294.88 L125.31,294.65 L125.38,294.42 L125.45,294.18 L125.51,293.94 L125.58,293.71 L125.65,293.47 L125.72,293.23 L125.79,292.98 L125.85,292.74 L125.92,292.49 L125.98,292.25 L126.05,292.00 L126.12,291.75 L126.18,291.50 L126.24,291.24 L126.31,290.99 L126.37,290.73 L126.44,290.47 L126.50,290.22 L126.56,289.96 L126.62,289.69 L126.68,289.43 L126.75,289.16 L126.81,288.90 L126.87,288.63 L126.93,288.36 L126.99,288.09 L127.04,287.81 L127.10,287.54 L127.16,287.26 L127.22,286.99 L127.28,286.71 L127.34,286.42 L127.39,286.14 L127.45,285.86 L127.51,285.57 L127.56,285.28 L127.62,284.99 L127.68,284.70 L127.73,284.41 L127.79,284.12 L127.84,283.82 L127.90,283.52 L127.95,283.22 L128.01,282.92 L128.06,282.62 L128.12,282.31 L128.17,282.01 L128.23,281.70 L128.28,281.39 L128.34,281.08 L128.39,280.76 L128.45,280.45 L128.50,280.13 L128.56,279.81 L128.61,279.49 L128.66,279.17 L128.72,278.84 L128.77,278.52 L128.83,278.19 L128.88,277.86 L128.94,277.53 L128.99,277.19 L129.05,276.86 L129.10,276.52 L129.16,276.18 L129.21,275.84 L129.27,275.50 L129.32,275.15 L129.38,274.81 L129.43,274.46 L129.49,274.11 L129.54,273.75 L129.60,273.40 L129.66,273.04 L129.71,272.68 L129.77,272.32 L129.83,271.96 L129.89,271.60 L129.94,271.23 L130.00,270.86 L130.06,270.49 L130.12,270.12 L130.18,269.75 L130.24,269.37 L130.30,268.99 L130.36,268.61 L130.42,268.23 L130.48,267.85 L130.54,267.46 L130.60,267.07 L130.66,266.68 L130.73,266.29 L130.79,265.89 L130.85,265.50 L130.92,265.10 L130.98,264.70 L131.05,264.29 L131.11,263.89 L131.18,263.48 L131.24,263.07 L131.31,262.66 L131.38,262.25 L131.45,261.83 L131.52,261.41 L131.59,260.99 L131.66,260.57 L131.73,260.14 L131.80,259.72 L131.87,259.29 L131.94,258.86 L132.02,258.42 L132.09,257.99 L132.16,257.55 L132.24,257.11 L132.32,256.67 L132.39,256.22 L132.47,255.78 L132.55,255.33 L132.63,254.88 L132.71,254.42 L132.79,253.97 L132.87,253.51 L132.95,253.05 L133.04,252.58 L133.12,252.12 L133.21,251.65 L133.29,251.18 L133.38,250.71 L133.46,250.23 L133.55,249.76 L133.64,249.28 L133.73,248.80 L133.82,248.31 L133.92,247.83 L134.01,247.34 L134.10,246.85 L134.20,246.35 L134.29,245.86 L134.39,245.36 L134.49,244.86 L134.59,244.35 L134.69,243.85 L134.79,243.34 L134.89,242.83 L135.00,242.32 L135.10,241.80 L135.21,241.28 L135.31,240.76 L135.42,240.24 L135.53,239.71 L135.64,239.18 L135.75,238.65 L135.86,238.12 L135.98,237.58 L136.09,237.04 L136.21,236.50 L136.32,235.96 L136.44,235.41 L136.56,234.86 L136.68,234.31 L136.80,233.76 L136.92,233.20 L137.04,232.64 L137.17,232.07 L137.29,231.51 L137.42,230.94 L137.54,230.37 L137.67,229.79 L137.80,229.21 L137.93,228.63 L138.06,228.05 L138.19,227.46 L138.32,226.87 L138.45,226.28 L138.58,225.68 L138.72,225.08 L138.85,224.48 L138.99,223.87 L139.12,223.27 L139.26,222.65 L139.40,222.04 L139.53,221.42 L139.67,220.80 L139.81,220.17 L139.95,219.55 L140.09,218.91 L140.24,218.28 L140.38,217.64 L140.52,217.00 L140.66,216.35 L140.81,215.71 L140.95,215.05 L141.10,214.40 L141.25,213.74 L141.39,213.08 L141.54,212.41 L141.69,211.74 L141.84,211.07 L141.98,210.39 L142.13,209.71 L142.28,209.03 L142.43,208.34 L142.58,207.65 L142.74,206.95 L142.89,206.25 L143.04,205.55 L143.19,204.84 L143.34,204.13 L143.50,203.42 L143.65,202.70 L143.81,201.98 L143.96,201.25 L144.11,200.52 L144.27,199.79 L144.43,199.05 L144.58,198.31 L144.74,197.56 L144.89,196.81 L145.05,196.06 L145.21,195.30 L145.37,194.54 L145.52,193.77 L145.68,193.00 L145.84,192.23 L146.00,191.45 L146.15,190.67 L146.31,189.88 L146.47,189.09 L146.63,188.29 L146.79,187.49 L146.95,186.69 L147.11,185.88 L147.27,185.07 L147.43,184.25 L147.59,183.43 L147.75,182.60 L147.91,181.77 L148.07,180.93 L148.23,180.09 L148.39,179.25 L148.55,178.40 L148.71,177.55 L148.87,176.69 L149.03,175.83 L149.19,174.96 L149.35,174.09 L149.51,173.21 L149.67,172.33 L149.82,171.44 L149.98,170.55 L150.14,169.66 L150.30,168.75 L150.46,167.85 L150.62,166.94 L150.78,166.02 L150.94,165.10 L151.10,164.18 L151.26,163.25 L151.41,162.31 L151.57,161.38 L151.73,160.43 L151.89,159.48 L152.05,158.53 L152.20,157.57 L152.36,156.60 L152.52,155.63 L152.67,154.66 L152.83,153.68 L152.98,152.69 L153.14,151.70 L153.30,150.70 L153.46,149.70 L153.62,148.70 L153.78,147.69 L153.94,146.67 L154.10,145.65 L154.27,144.62 L154.44,143.59 L154.61,142.55 L154.79,141.51 L154.96,140.46 L155.15,139.41 L155.33,138.35 L155.52,137.29 L155.72,136.22 L155.92,135.14 L156.12,134.06 L156.33,132.98 L156.55,131.89 L156.77,130.80 L156.99,129.70 L157.23,128.59 L157.47,127.48 L157.72,126.36 L157.97,125.24 L158.23,124.11 L158.50,122.98 L158.78,121.84 L159.07,120.70 L159.36,119.55 L159.66,118.40 L159.98,117.24 L160.30,116.08 L160.63,114.91 L160.97,113.73 L161.33,112.55 L161.69,111.37 L162.06,110.18 L162.45,108.98 L162.84,107.78 L163.25,106.57 L163.67,105.36 L164.10,104.14 L164.55,102.92 L165.00,101.69 L165.47,100.45 L165.96,99.21 L166.45,97.97 L166.96,96.72 L167.49,95.46 L168.03,94.21 L168.60,92.96 L169.20,91.72 L169.83,90.50 L170.49,89.30 L171.20,88.13 L171.96,86.99 L172.77,85.94 L173.63,85.04 L174.56,84.37 L175.55,84.01 L176.62,84.02 L177.74,84.40 L178.90,85.10 L180.07,86.03 L181.23,87.13 L182.36,88.33 L183.42,89.57 L184.43,90.81 L185.38,92.07 L186.27,93.33 L187.12,94.61 L187.92,95.89 L188.68,97.19 L189.41,98.50 L190.10,99.81 L190.77,101.14 L191.41,102.48 L192.03,103.82 L192.64,105.17 L193.24,106.54 L193.83,107.91 L194.42,109.29 L195.02,110.67 L195.62,112.07 L196.22,113.47 L196.84,114.88 L197.47,116.30 L198.11,117.73 L198.75,119.16 L199.41,120.60 L200.07,122.04 L200.75,123.50 L201.43,124.95 L202.12,126.42 L202.82,127.89 L203.53,129.36 L204.26,130.84 L205.00,132.33 L205.75,133.82 L206.53,135.31 L207.32,136.81 L208.13,138.32 L208.97,139.82 L209.83,141.34 L210.72,142.85 L211.63,144.37 L212.57,145.89 L213.54,147.42 L214.55,148.95 L215.59,150.48 L216.66,152.01 L217.75,153.55 L218.87,155.08 L220.00,156.62 L221.15,158.17 L222.30,159.71 L223.46,161.25 L224.63,162.80 L225.80,164.34 L226.99,165.88 L228.18,167.42 L229.39,168.96 L230.60,170.50 L231.83,172.04 L233.08,173.57 L234.33,175.09 L235.60,176.62 L236.89,178.13 L238.19,179.65 L239.50,181.15 L240.84,182.65 L242.19,184.14 L243.56,185.62 L244.95,187.09 L246.36,188.56 L247.79,190.01 L249.24,191.46 L250.71,192.89 L252.21,194.31 L253.73,195.72 L255.27,197.12 L256.84,198.50 L258.43,199.87 L260.05,201.23 L261.70,202.57 L263.37,203.90 L265.08,205.21 L266.81,206.50 L268.57,207.78 L270.36,209.04 L272.19,210.28 L274.04,211.50 L275.93,212.70 L277.84,213.89 L279.79,215.06 L281.76,216.20 L283.76,217.33 L285.80,218.45 L287.85,219.54 L289.94,220.62 L292.05,221.67 L294.19,222.71 L296.35,223.73 L298.54,224.74 L300.76,225.72 L303.00,226.69 L305.26,227.64 L307.54,228.57 L309.85,229.48 L312.18,230.37 L314.53,231.25 L316.90,232.11 L319.30,232.95 L321.71,233.77 L324.14,234.58 L326.59,235.36 L329.06,236.13 L331.55,236.88 L334.06,237.62 L336.58,238.33 L339.12,239.03 L341.68,239.71 L344.25,240.37 L346.84,241.02 L349.44,241.64 L352.06,242.26 L354.69,242.85 L357.34,243.43 L360.01,243.99 L362.69,244.54 L365.39,245.08 L368.10,245.60 L370.83,246.10 L373.57,246.60 L376.33,247.08 L379.11,247.55 L381.90,248.01 L384.71,248.46 L387.54,248.90 L390.38,249.32 L393.24,249.74 L396.11,250.15 L399.01,250.55 L401.92,250.94 L404.84,251.32 L407.78,251.70 L410.74,252.07 L413.72,252.43 L416.71,252.79 L419.73,253.15 L422.76,253.49 L425.80,253.84 L428.86,254.18 L431.95,254.51 L435.04,254.85 L438.16,255.18 L441.30,255.50 L444.45,255.83 L447.62,256.15 L450.80,256.47 L454.01,256.79 L457.23,257.11 L460.48,257.42 L463.74,257.73 L467.02,258.04 L470.31,258.34 L473.63,258.64 L476.96,258.94 L480.32,259.24 L483.69,259.54 L487.08,259.83 L490.49,260.12 L493.92,260.41 L497.36,260.69 L500.83,260.97 L504.32,261.25 L507.82,261.53 L511.35,261.81 L514.89,262.08 L518.45,262.35 L522.04,262.62 L525.64,262.88 L529.26,263.14 L532.90,263.40 L536.56,263.66 L540.24,263.92 L543.95,264.17 L547.67,264.42 L551.41,264.67 L555.17,264.91 L558.95,265.15 L562.76,265.39 L566.58,265.63 L570.42,265.86 L574.29,266.10 L578.17,266.33 L582.08,266.55 L586.00,266.78 L589.95,267.00 L593.92,267.22 L597.91,267.44 L601.92,267.65 L605.95,267.87 L610.00,268.08 L614.08,268.29 L618.17,268.49 L622.29,268.69 L626.43,268.89 L630.59,269.09 L634.77,269.29 L638.97,269.48 L643.20,269.67 L647.45,269.86 L651.71,270.04 L656.01,270.23 L660.32,270.41 L664.66,270.58 L669.01,270.76 L673.39,270.93 L677.80,271.10 L682.22,271.27 L686.67,271.44 L691.14,271.60 L695.63,271.76 L700.15,271.92 L704.69,272.07 L709.25,272.23 L713.84,272.38 L718.44,272.53 L723.08,272.67 L727.73,272.82 L732.41,272.96 L737.11,273.10 L741.84,273.23 L746.58,273.37 L751.36,273.50 L756.15,273.63 L760.97,273.75 L765.81,273.88 L770.68,274.00 L775.57,274.12 L780.49,274.24 L785.43,274.35 L790.39,274.46 L795.38,274.57 L800.39,274.68 L805.43,274.78 L810.49,274.89 L815.58,274.99" stroke="#800080" stroke-dasharray="3.95 3.27" stroke-dashoffset="2.05"/>
</g>
<g stroke="#000" fill="none">
<path d="M103.2,448.85 L103.2,-2 M828.9,-2 L828.9,448.85" stroke-width="1.75"/>
<path d="M102.25,448.85 L829.75,448.85" stroke-width="1.75"/>
<path d="M103.2,0.15 L828.9,0.15" stroke-width="1.9"/>
<path d="M116.90,448.85 L116.90,441.85 M116.90,0.0 L116.90,7.0 M158.88,448.85 L158.88,444.85 M158.88,0.0 L158.88,4.0 M200.87,448.85 L200.87,444.85 M200.87,0.0 L200.87,4.0 M242.86,448.85 L242.86,444.85 M242.86,0.0 L242.86,4.0 M284.84,448.85 L284.84,441.85 M284.84,0.0 L284.84,7.0 M326.83,448.85 L326.83,444.85 M326.83,0.0 L326.83,4.0 M368.81,448.85 L368.81,444.85 M368.81,0.0 L368.81,4.0 M410.79,448.85 L410.79,444.85 M410.79,0.0 L410.79,4.0 M452.78,448.85 L452.78,441.85 M452.78,0.0 L452.78,7.0 M494.76,448.85 L494.76,444.85 M494.76,0.0 L494.76,4.0 M536.75,448.85 L536.75,444.85 M536.75,0.0 L536.75,4.0 M578.74,448.85 L578.74,444.85 M578.74,0.0 L578.74,4.0 M620.72,448.85 L620.72,441.85 M620.72,0.0 L620.72,7.0 M662.70,448.85 L662.70,444.85 M662.70,0.0 L662.70,4.0 M704.69,448.85 L704.69,444.85 M704.69,0.0 L704.69,4.0 M746.67,448.85 L746.67,444.85 M746.67,0.0 L746.67,4.0 M788.66,448.85 L788.66,441.85 M788.66,0.0 L788.66,7.0" stroke-width="1.5"/>
<path d="M103.2,429.85 L107.2,429.85 M828.9,429.85 L824.9,429.85 M103.2,410.57 L110.2,410.57 M828.9,410.57 L821.9,410.57 M103.2,391.29 L107.2,391.29 M828.9,391.29 L824.9,391.29 M103.2,372.02 L107.2,372.02 M828.9,372.02 L824.9,372.02 M103.2,352.74 L107.2,352.74 M828.9,352.74 L824.9,352.74 M103.2,333.47 L107.2,333.47 M828.9,333.47 L824.9,333.47 M103.2,314.19 L110.2,314.19 M828.9,314.19 L821.9,314.19 M103.2,294.91 L107.2,294.91 M828.9,294.91 L824.9,294.91 M103.2,275.64 L107.2,275.64 M828.9,275.64 L824.9,275.64 M103.2,256.36 L107.2,256.36 M828.9,256.36 L824.9,256.36 M103.2,237.09 L107.2,237.09 M828.9,237.09 L824.9,237.09 M103.2,217.81 L110.2,217.81 M828.9,217.81 L821.9,217.81 M103.2,198.53 L107.2,198.53 M828.9,198.53 L824.9,198.53 M103.2,179.26 L107.2,179.26 M828.9,179.26 L824.9,179.26 M103.2,159.98 L107.2,159.98 M828.9,159.98 L824.9,159.98 M103.2,140.71 L107.2,140.71 M828.9,140.71 L824.9,140.71 M103.2,121.43 L110.2,121.43 M828.9,121.43 L821.9,121.43 M103.2,102.15 L107.2,102.15 M828.9,102.15 L824.9,102.15 M103.2,82.88 L107.2,82.88 M828.9,82.88 L824.9,82.88 M103.2,63.60 L107.2,63.60 M828.9,63.60 L824.9,63.60 M103.2,44.33 L107.2,44.33 M828.9,44.33 L824.9,44.33 M103.2,25.05 L110.2,25.05 M828.9,25.05 L821.9,25.05 M103.2,5.77 L107.2,5.77 M828.9,5.77 L824.9,5.77" stroke-width="1.5"/>
</g>
<text transform="translate(116.90 485.30) scale(1 1.04)" font-size="31.5" text-anchor="middle">0</text>
<text transform="translate(284.84 485.30) scale(1 1.04)" font-size="31.5" text-anchor="middle">2</text>
<text transform="translate(452.78 485.30) scale(1 1.04)" font-size="31.5" text-anchor="middle">4</text>
<text transform="translate(620.72 485.30) scale(1 1.04)" font-size="31.5" text-anchor="middle">6</text>
<text transform="translate(788.66 485.30) scale(1 1.04)" font-size="31.5" text-anchor="middle">8</text>
<text transform="translate(98.60 422.47) scale(1 1.04)" font-size="31.5" text-anchor="end">0.9</text>
<text transform="translate(98.60 326.09) scale(1 1.04)" font-size="31.5" text-anchor="end">.0</text>
<path transform="translate(65.20 325.99) scale(1.0000)" d="M0,0 L0,-22.85 L-2.6,-22.85 Q-3.5,-19.4 -8.25,-18.8 L-8.25,-16.45 L-3.1,-16.45 L-3.1,0 Z" fill="#000"/>
<text transform="translate(81.09 229.71) scale(1 1.04)" font-size="31.5" text-anchor="end">.</text>
<path transform="translate(91.30 229.61) scale(1.0000)" d="M0,0 L0,-22.85 L-2.6,-22.85 Q-3.5,-19.4 -8.25,-18.8 L-8.25,-16.45 L-3.1,-16.45 L-3.1,0 Z" fill="#000"/>
<path transform="translate(65.20 229.61) scale(1.0000)" d="M0,0 L0,-22.85 L-2.6,-22.85 Q-3.5,-19.4 -8.25,-18.8 L-8.25,-16.45 L-3.1,-16.45 L-3.1,0 Z" fill="#000"/>
<text transform="translate(98.60 133.33) scale(1 1.04)" font-size="31.5" text-anchor="end">.2</text>
<path transform="translate(65.20 133.23) scale(1.0000)" d="M0,0 L0,-22.85 L-2.6,-22.85 Q-3.5,-19.4 -8.25,-18.8 L-8.25,-16.45 L-3.1,-16.45 L-3.1,0 Z" fill="#000"/>
<text transform="translate(98.60 36.95) scale(1 1.04)" font-size="31.5" text-anchor="end">.3</text>
<path transform="translate(65.20 36.85) scale(1.0000)" d="M0,0 L0,-22.85 L-2.6,-22.85 Q-3.5,-19.4 -8.25,-18.8 L-8.25,-16.45 L-3.1,-16.45 L-3.1,0 Z" fill="#000"/>
<text transform="translate(465.30 535.40) scale(1 1.03)" font-size="32.5" text-anchor="middle">p [GeV]</text>
<g transform="translate(36.4,0) rotate(-90)">
<text x="-295.6" y="0" font-size="33.5" font-style="italic">G</text>
<text x="-269.6" y="-17.3" font-size="22.9">CCA</text>
<text x="-219.1" y="0" font-size="32.7">(p,0)</text>
</g>
<g fill="none" stroke-width="1.9">
<path d="M571.9,41.1 L628.3,41.1" stroke="#ff0000"/>
<path d="M571.9,90.9 L628.3,90.9" stroke="#0000ff" stroke-dasharray="8.1 3.42"/>
<path d="M571.9,140.6 L628.3,140.6" stroke="#800080" stroke-dasharray="3.9 3.29"/>
</g>
<text transform="translate(643.90 48.20) scale(1 1.04)" font-size="29.0" text-anchor="start">RGZ</text>
<text transform="translate(643.20 96.70) scale(1 1.04)" font-size="29.0" text-anchor="start">CF</text>
<rect x="692.1" y="88.85" width="13.8" height="2.15" fill="#000"/>
<path transform="translate(727.10 96.70) scale(0.9156)" d="M0,0 L0,-22.85 L-2.6,-22.85 Q-3.5,-19.4 -8.25,-18.8 L-8.25,-16.45 L-3.1,-16.45 L-3.1,0 Z" fill="#000"/>
<text transform="translate(740.20 96.70) scale(1 1.04)" font-size="29.0" text-anchor="start">loop</text>
<text transform="translate(643.20 146.50) scale(1 1.04)" font-size="29.0" text-anchor="start">CF</text>
<rect x="692.1" y="138.65" width="13.8" height="2.15" fill="#000"/>
<text transform="translate(716.20 146.50) scale(1 1.04)" font-size="29.0" text-anchor="start">2</text>
<text transform="translate(740.20 146.50) scale(1 1.04)" font-size="29.0" text-anchor="start">loop</text>
</svg></body></html>
